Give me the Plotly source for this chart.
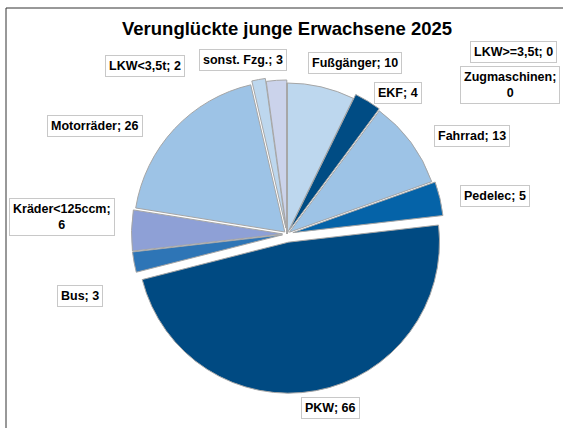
import plotly.graph_objects as go

# ---- data ----
categories = ["Fußgänger", "EKF", "Fahrrad", "Pedelec", "PKW", "Bus",
              "Kräder<125ccm", "Motorräder", "LKW<3,5t", "sonst. Fzg.",
              "LKW>=3,5t", "Zugmaschinen"]
values = [10, 4, 13, 5, 66, 3, 6, 26, 2, 3, 0, 0]
title_text = "Verunglückte junge Erwachsene 2025"

# ---- styles ----
colors = ["#bdd7ee", "#004c84", "#9dc3e6", "#0563a8", "#004a82", "#2e75b6",
          "#8ea0d6", "#9dc3e6", "#bdd7ee", "#cbd3eb", "#9dc3e6", "#9dc3e6"]
pulls = [0.0, 0.03, 0.02, 0.04, 0.055, 0.03, 0.03, 0.02, 0.04, 0.02, 0, 0]
# label box centres in pixels (x, y from top)
label_pos = [(355, 63), (398, 93), (472, 136), (495, 196), (330, 408),
             (80, 296), (62, 217), (95, 126), (145, 66), (243, 60),
             (513, 52), (510, 85)]
label_text = {"Kräder<125ccm": "Kräder<125ccm;<br>{v}",
              "Zugmaschinen": "Zugmaschinen;<br>{v}"}

W, H = 563, 428
cx, cy, r = 287, 234, 151
R = r * (1 + max(pulls))

font = "Liberation Sans, Arial, sans-serif"

fig = go.Figure(go.Pie(
    labels=categories,
    values=values,
    sort=False,
    direction="clockwise",
    rotation=0,
    pull=pulls,
    marker=dict(colors=colors, line=dict(color="#a6a6a6", width=1)),
    textinfo="none",
    hoverinfo="label+value",
    showlegend=False,
    domain=dict(x=[(cx - R) / W, (cx + R) / W],
                y=[(H - cy - R) / H, (H - cy + R) / H]),
))

annotations = [dict(
    text="<b>" + title_text + "</b>", x=287 / W, y=1 - 28 / H,
    xref="paper", yref="paper", showarrow=False,
    font=dict(family=font, size=18.5, color="#000000"),
    xanchor="center", yanchor="middle")]

for cat, val, (px, py) in zip(categories, values, label_pos):
    t = label_text.get(cat, "{c}; {v}").format(c=cat, v=val)
    annotations.append(dict(
        text="<b>" + t + "</b>", x=px / W, y=1 - py / H,
        xref="paper", yref="paper", showarrow=False,
        xanchor="center", yanchor="middle",
        font=dict(family=font, size=12.5, color="#000000"),
        bgcolor="#ffffff", bordercolor="#c8c8c8", borderwidth=1, borderpad=3))

fig.update_layout(
    width=W, height=H,
    margin=dict(l=0, r=0, t=0, b=0),
    paper_bgcolor="#ffffff",
    plot_bgcolor="#ffffff",
    annotations=annotations,
    shapes=[dict(type="rect", xref="paper", yref="paper",
                 x0=6 / W, x1=1.05, y0=-0.05, y1=1 - 8 / H,
                 line=dict(color="#333333", width=1), layer="below")],
)

fig.write_html("out.html",
               config={"displayModeBar": False},
               post_script="document.body.style.margin='0';"
                           "document.body.style.overflow='hidden';")
